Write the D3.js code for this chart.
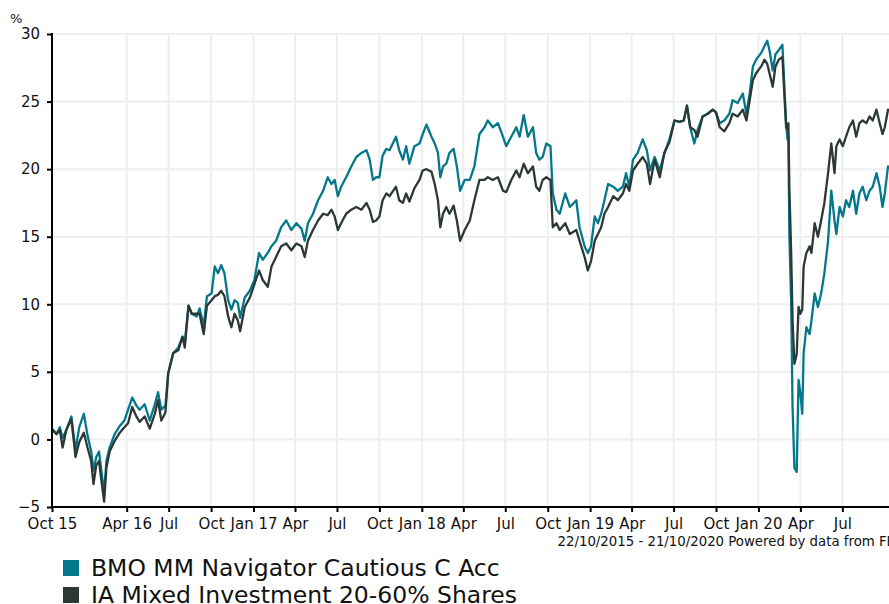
<!DOCTYPE html>
<html>
<head>
<meta charset="utf-8">
<script src="https://cdn.jsdelivr.net/npm/d3@7"></script>
<style>
  body { margin: 0; background: #fff; }
  svg { display: block; font-family: "DejaVu Sans", Verdana, sans-serif; }
</style>
</head>
<body>
<div id="chart"></div>
<script>
var startDate = new Date(2015, 9, 22)
var endDate = new Date(2020, 9, 21)
var dayOffsets = [0, 10, 17, 23, 31, 42, 51, 59, 69, 77, 85, 90, 96, 102, 107, 113, 118, 125, 136, 147,
  157, 165, 174, 183, 190, 201, 212, 223, 230, 237, 246, 252, 263, 274, 283, 288, 296, 303, 314, 320,
  329, 336, 346, 353, 360, 367, 374, 382, 389, 396, 403, 408, 418, 429, 439, 449, 457, 468, 476, 486,
  497, 508, 519, 530, 541, 548, 555, 566, 577, 588, 598, 606, 613, 620, 627, 638, 649, 660, 671, 682,
  689, 696, 703, 710, 717, 725, 732, 746, 753, 761, 768, 775, 786, 797, 804, 812, 823, 830, 837, 842,
  848, 855, 862, 871, 878, 885, 895, 906, 916, 927, 938, 945, 956, 967, 978, 985, 996, 1007, 1014, 1023,
  1032, 1043, 1050, 1057, 1064, 1072, 1081, 1086, 1094, 1101, 1113, 1123, 1137, 1144, 1155, 1162, 1169, 1177, 1184, 1191,
  1198, 1206, 1217, 1227, 1238, 1245, 1252, 1260, 1270, 1281, 1290, 1297, 1307, 1318, 1328, 1339, 1350, 1361, 1370, 1377,
  1384, 1393, 1400, 1411, 1422, 1433, 1440, 1448, 1458, 1469, 1476, 1487, 1498, 1506, 1513, 1520, 1527, 1538, 1545, 1551,
  1556, 1563, 1569, 1576, 1584, 1592, 1595, 1597, 1599, 1603, 1606, 1610, 1615, 1619, 1623, 1627, 1630, 1636, 1643, 1647,
  1654, 1661, 1668, 1675, 1683, 1690, 1697, 1701, 1708, 1715, 1722, 1729, 1737, 1744, 1751, 1758, 1766, 1773, 1780, 1788,
  1795, 1801, 1806, 1813, 1826]

var bmoValues = [0.8, 0.4, 0.9, 0.1, 0.7, 1.7, -0.8, 0.9, 1.9, 0.3, -0.9, -2.3, -1.3, -0.9, -2.3, -4.0, -1.6, -0.6, 0.4, 1.0,
  1.4, 2.2, 3.1, 2.5, 2.2, 2.6, 1.4, 2.6, 3.5, 2.2, 2.5, 4.9, 6.4, 6.8, 7.6, 7.2, 9.9, 9.3, 9.1, 9.7,
  8.4, 10.6, 10.8, 12.8, 12.3, 12.9, 12.3, 10.3, 9.6, 10.3, 10.1, 9.0, 10.5, 11.0, 11.8, 13.8, 13.3, 13.8, 14.3, 14.7,
  15.7, 16.2, 15.5, 16.0, 15.6, 14.7, 16.0, 16.7, 17.7, 18.4, 19.4, 18.9, 19.2, 18.0, 18.7, 19.4, 20.2, 20.9, 21.2, 21.4,
  20.7, 19.2, 19.4, 19.4, 21.0, 21.5, 21.4, 22.4, 21.4, 20.7, 21.7, 20.4, 21.7, 21.9, 22.6, 23.3, 22.4, 21.9, 21.2, 19.4,
  20.2, 20.4, 21.2, 21.5, 20.2, 18.4, 19.2, 19.2, 20.2, 22.6, 23.1, 23.6, 23.1, 23.4, 22.4, 21.7, 22.4, 23.1, 22.4, 24.0,
  22.4, 23.1, 21.2, 20.7, 20.9, 21.9, 21.7, 18.2, 17.0, 16.7, 18.2, 17.2, 17.7, 15.7, 14.3, 13.8, 14.3, 16.5, 16.0, 16.7,
  17.7, 18.9, 18.7, 18.4, 18.7, 19.7, 18.7, 20.7, 21.2, 22.2, 21.4, 19.9, 20.9, 19.9, 21.2, 22.2, 23.6, 23.5, 23.6, 24.7,
  23.1, 21.9, 22.9, 23.9, 24.1, 24.4, 24.2, 23.4, 23.6, 24.1, 25.1, 24.9, 25.6, 24.1, 25.6, 27.6, 28.1, 28.6, 29.1, 29.5,
  28.8, 27.3, 28.5, 28.8, 29.2, 23.4, 22.2, 22.4, 15.2, 10.1, 2.4, -2.1, -2.4, 4.4, 3.4, 1.9, 6.4, 8.3, 7.8, 8.8,
  10.8, 9.8, 10.8, 12.3, 14.7, 18.4, 16.2, 15.2, 17.2, 16.5, 17.7, 17.2, 18.4, 16.7, 18.2, 18.7, 17.7, 18.4, 18.7, 19.7,
  18.7, 17.2, 18.2, 20.2, 19.8]

var sectorValues = [0.7, 0.4, 0.7, -0.6, 0.7, 1.5, -1.3, -0.2, 0.5, -0.6, -1.6, -3.3, -1.9, -1.6, -3.0, -4.6, -2.1, -0.9, -0.1, 0.5,
  0.9, 1.2, 2.4, 1.7, 1.3, 1.7, 0.8, 1.9, 2.9, 1.4, 2.0, 4.9, 6.4, 6.6, 7.6, 6.8, 9.9, 9.3, 9.3, 9.3,
  7.8, 9.9, 10.3, 10.6, 10.7, 11.0, 10.6, 9.1, 8.3, 9.3, 8.8, 8.0, 9.8, 10.5, 11.5, 12.5, 11.8, 11.3, 12.8, 13.5,
  14.3, 14.5, 14.0, 14.5, 14.3, 13.5, 14.7, 15.5, 16.2, 16.7, 16.6, 17.0, 16.5, 15.5, 16.0, 16.7, 17.0, 17.2, 17.0, 17.5,
  17.0, 16.1, 16.2, 16.5, 17.7, 18.2, 18.0, 18.7, 17.7, 17.5, 18.2, 17.6, 18.6, 19.2, 19.9, 20.0, 19.8, 18.9, 17.7, 15.7,
  16.7, 17.2, 16.7, 17.3, 16.2, 14.7, 15.5, 16.2, 17.7, 19.2, 19.2, 19.4, 19.2, 19.4, 18.4, 18.3, 19.2, 19.9, 19.4, 20.4,
  19.7, 20.2, 18.7, 18.4, 19.2, 19.4, 19.2, 15.7, 16.0, 15.5, 16.0, 15.2, 15.5, 14.7, 13.5, 12.5, 13.2, 14.7, 15.2, 15.7,
  16.7, 17.2, 18.0, 17.7, 18.2, 18.9, 18.4, 19.9, 20.4, 20.9, 20.4, 18.9, 20.7, 19.4, 21.2, 22.0, 23.6, 23.5, 23.6, 24.7,
  23.1, 22.9, 22.4, 23.9, 24.1, 24.4, 24.2, 23.1, 22.8, 23.4, 24.1, 23.9, 24.4, 23.6, 25.1, 26.6, 27.1, 27.6, 28.1, 27.8,
  27.1, 26.1, 27.6, 28.1, 28.3, 23.1, 22.9, 23.4, 18.7, 13.8, 8.8, 5.6, 6.3, 9.8, 9.3, 9.6, 12.8, 13.8, 14.3, 13.8,
  16.0, 15.0, 16.2, 17.5, 19.7, 21.9, 19.7, 21.7, 22.2, 21.7, 22.4, 23.1, 23.6, 22.4, 23.4, 23.6, 23.4, 23.9, 23.6, 24.4,
  23.4, 22.6, 23.1, 24.4, 24.2]

var seriesNames = ["BMO MM Navigator Cautious C Acc", "IA Mixed Investment 20-60% Shares"]
var seriesColors = ["#04788a", "#2c3835"]

var yTicks = [-5, 0, 5, 10, 15, 20, 25, 30]
var tickDates = [new Date(2015, 9, 22), new Date(2016, 3, 1), new Date(2016, 6, 1), new Date(2016, 9, 1),
  new Date(2017, 0, 1), new Date(2017, 3, 1), new Date(2017, 6, 1), new Date(2017, 9, 1),
  new Date(2018, 0, 1), new Date(2018, 3, 1), new Date(2018, 6, 1), new Date(2018, 9, 1),
  new Date(2019, 0, 1), new Date(2019, 3, 1), new Date(2019, 6, 1), new Date(2019, 9, 1),
  new Date(2020, 0, 1), new Date(2020, 3, 1), new Date(2020, 6, 1)]
var tickLabels = ["Oct 15", "Apr 16", "Jul", "Oct", "Jan 17", "Apr", "Jul", "Oct", "Jan 18", "Apr", "Jul", "Oct",
  "Jan 19", "Apr", "Jul", "Oct", "Jan 20", "Apr", "Jul"]
var footerText = "22/10/2015 - 21/10/2020 Powered by data from FE"

var width = 889, height = 604
var plot = {left: 52, right: 894, top: 34, bottom: 507}

var svg = d3.select("#chart").append("svg")
  .attr("width", width)
  .attr("height", height)

var x = d3.scaleTime().domain([startDate, endDate]).range([plot.left, plot.right])
var y = d3.scaleLinear().domain([-5, 30]).range([plot.bottom, plot.top])

var dates = dayOffsets.map(d => d3.timeDay.offset(startDate, d))
var series = [bmoValues, sectorValues].map((vals, i) => ({
  name: seriesNames[i],
  color: seriesColors[i],
  points: vals.map((v, j) => ({date: dates[j], value: v}))
}))

// GRID
var grid = svg.append("g").attr("class", "grid")
grid.selectAll(".hgrid")
  .data(yTicks)
  .enter().append("line")
    .attr("x1", plot.left).attr("x2", width)
    .attr("y1", d => y(d)).attr("y2", d => y(d))
    .attr("stroke", "#eeeeee")
    .attr("stroke-width", 2)

grid.selectAll(".vgrid")
  .data(tickDates.slice(1))
  .enter().append("line")
    .attr("x1", d => x(d)).attr("x2", d => x(d))
    .attr("y1", plot.top).attr("y2", plot.bottom)
    .attr("stroke", "#eeeeee")
    .attr("stroke-width", 2)

// LINES
var line = d3.line()
  .x(d => x(d.date))
  .y(d => y(d.value))

svg.append("g").selectAll("path")
  .data(series)
  .enter().append("path")
    .attr("d", d => line(d.points))
    .attr("fill", "none")
    .attr("stroke", d => d.color)
    .attr("stroke-width", 2.3)
    .attr("stroke-linejoin", "round")

// AXES
var xAxis = d3.axisBottom(x)
  .tickValues(tickDates)
  .tickSize(5)
  .tickFormat((d, i) => tickLabels[i])

var yAxis = d3.axisLeft(y)
  .tickValues(yTicks)
  .tickSize(5)
  .tickFormat(d3.format("d"))

var gx = svg.append("g")
  .attr("transform", "translate(0," + plot.bottom + ")")
  .call(xAxis)
gx.select(".domain").attr("stroke", "#000").attr("stroke-width", 2)
  .attr("d", "M" + plot.left + ",0H" + width)
gx.selectAll(".tick line").attr("stroke", "#000").attr("stroke-width", 2)
gx.selectAll(".tick text")
  .attr("y", 11)
  .style("font-size", "15px")
  .style("font-family", "DejaVu Sans")
  .attr("fill", "#111")

var gy = svg.append("g")
  .attr("transform", "translate(" + plot.left + ",0)")
  .call(yAxis)
gy.select(".domain").attr("stroke", "#000").attr("stroke-width", 2)
  .attr("d", "M0," + (plot.top - 1) + "V" + (plot.bottom + 1))
gy.selectAll(".tick line").attr("stroke", "#000").attr("stroke-width", 2)
gy.selectAll(".tick text")
  .attr("x", -12)
  .style("font-size", "15px")
  .style("font-family", "DejaVu Sans")
  .attr("fill", "#111")

svg.append("text")
  .attr("x", 10)
  .attr("y", 23)
  .style("font-size", "13px")
  .attr("fill", "#111")
  .text("%")

svg.append("text")
  .attr("x", 895)
  .attr("y", 546)
  .attr("text-anchor", "end")
  .style("font-size", "13.3px")
  .attr("fill", "#111")
  .text(footerText)

// LEGEND
var legend = svg.selectAll(".legend")
  .data(series)
  .enter().append("g")
    .attr("class", "legend")
    .attr("transform", (d, i) => "translate(63," + (560 + i * 27) + ")")

legend.append("rect")
  .attr("width", 16)
  .attr("height", 16)
  .attr("fill", d => d.color)

legend.append("text")
  .attr("x", 28)
  .attr("y", 16)
  .style("font-size", "23.5px")
  .attr("fill", "#111")
  .text(d => d.name)
</script>
</body>
</html>
